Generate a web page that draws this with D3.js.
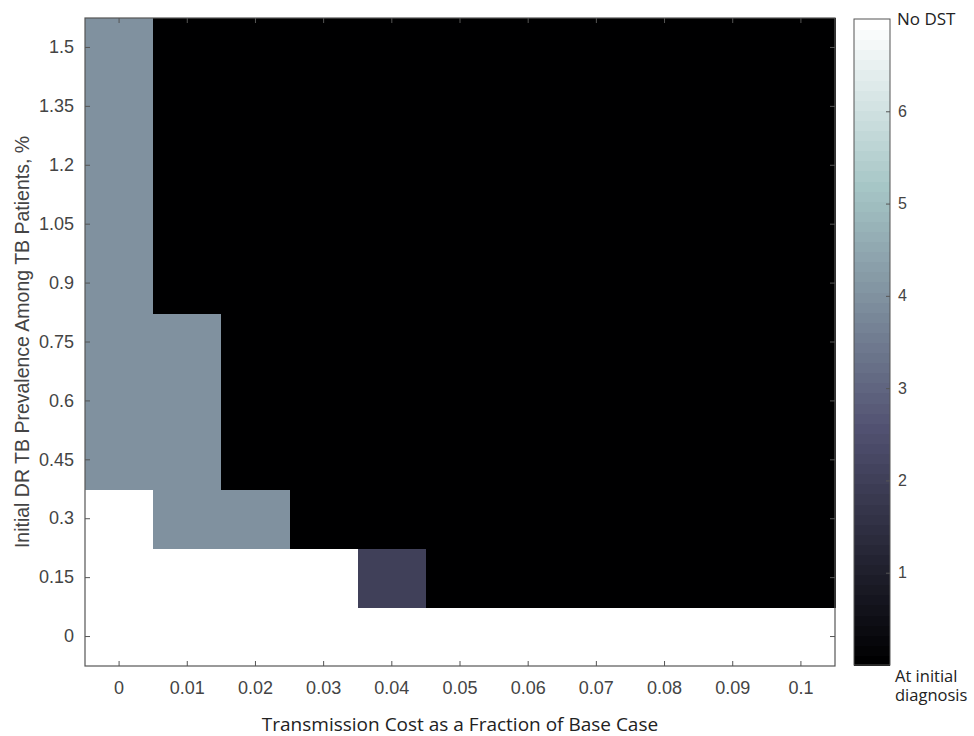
<!DOCTYPE html>
<html>
<head>
<meta charset="utf-8">
<script src="https://cdn.jsdelivr.net/npm/d3@7"></script>
<style>
  body { margin: 0; background: #fff; }
  .axis text { font-family: "Liberation Sans", Arial, sans-serif; font-size: 18px; fill: #444; }
  .axis line { stroke: #555; }
  .axis path { display: none; }
  .cb text { font-size: 16px; }
</style>
</head>
<body>
<div id="canvas"></div>
<script>
// x categories: transmission cost fraction
var xLabels = ["0", "0.01", "0.02", "0.03", "0.04", "0.05", "0.06", "0.07", "0.08", "0.09", "0.1"];
// y categories: initial DR TB prevalence, % (bottom to top)
var yLabels = ["0", "0.15", "0.3", "0.45", "0.6", "0.75", "0.9", "1.05", "1.2", "1.35", "1.5"];
// cell values per row, bottom row first (0 = at initial diagnosis, 7 = no DST)
var row000 = [7, 7, 7, 7, 7, 7, 7, 7, 7, 7, 7];
var row015 = [7, 7, 7, 7, 2, 0, 0, 0, 0, 0, 0];
var row030 = [7, 4, 4, 0, 0, 0, 0, 0, 0, 0, 0];
var row045 = [4, 4, 0, 0, 0, 0, 0, 0, 0, 0, 0];
var row060 = [4, 4, 0, 0, 0, 0, 0, 0, 0, 0, 0];
var row075 = [4, 4, 0, 0, 0, 0, 0, 0, 0, 0, 0];
var row090 = [4, 0, 0, 0, 0, 0, 0, 0, 0, 0, 0];
var row105 = [4, 0, 0, 0, 0, 0, 0, 0, 0, 0, 0];
var row120 = [4, 0, 0, 0, 0, 0, 0, 0, 0, 0, 0];
var row135 = [4, 0, 0, 0, 0, 0, 0, 0, 0, 0, 0];
var row150 = [4, 0, 0, 0, 0, 0, 0, 0, 0, 0, 0];
var rows = [row000, row015, row030, row045, row060, row075, row090, row105, row120, row135, row150];
// colorbar
var cbTicks = [1, 2, 3, 4, 5, 6];
var cbMin = 0, cbMax = 7;
var cbTopLabel = ["No DST"];
var cbBottomLabel = ["At initial", "diagnosis"];

var xTitle = "Transmission Cost as a Fraction of Base Case";
var yTitle = "Initial DR TB Prevalence Among TB Patients, %";

// matlab "bone" colormap, 64 levels
function bone(t) {
  var m = 64, i = Math.min(m - 1, Math.max(0, Math.floor(t * m)));
  var n = Math.floor(3 / 8 * m);
  var g = i / (m - 1);
  var hr = i < n ? (i + 1) / n : 1;
  var hg = i < n ? 0 : (i < 2 * n ? (i - n + 1) / n : 1);
  var hb = i < 2 * n ? 0 : (i - 2 * n + 1) / (m - 2 * n);
  // fliplr(hot)
  var r = (7 * g + hb) / 8, gg = (7 * g + hg) / 8, b = (7 * g + hr) / 8;
  return d3.rgb(r * 255, gg * 255, b * 255).toString();
}

var width = 974, height = 736;
var margin = {top: 18, right: 139, bottom: 70, left: 85};

var svg = d3.select("#canvas").append("svg")
    .attr("width", width)
    .attr("height", height);

var x = d3.scaleBand().domain(xLabels).range([margin.left, width - margin.right]).padding(0);
var y = d3.scaleBand().domain(yLabels).range([height - margin.bottom, margin.top]).padding(0);
var color = function(v) { return bone((v - cbMin) / (cbMax - cbMin)); };

var cells = [];
rows.forEach(function(r, i) {
  r.forEach(function(v, j) { cells.push({x: xLabels[j], y: yLabels[i], v: v}); });
});

svg.append("g").attr("shape-rendering", "crispEdges").selectAll("rect")
  .data(cells)
  .enter().append("rect")
    .attr("x", function(d) { return x(d.x); })
    .attr("y", function(d) { return y(d.y); })
    .attr("width", x.bandwidth() + 1)
    .attr("height", y.bandwidth() + 1)
    .attr("fill", function(d) { return color(d.v); });

var plotB = height - margin.bottom, plotR = width - margin.right;

// Axes with inward ticks on all four sides
svg.append("g").attr("class", "axis")
    .attr("transform", "translate(0," + plotB + ")")
    .call(d3.axisBottom(x).tickSizeInner(-5).tickSizeOuter(0).tickPadding(15));
svg.append("g").attr("class", "axis")
    .attr("transform", "translate(0," + margin.top + ")")
    .call(d3.axisTop(x).tickSizeInner(-5).tickSizeOuter(0).tickFormat(""));
svg.append("g").attr("class", "axis")
    .attr("transform", "translate(" + margin.left + ",0)")
    .call(d3.axisLeft(y).tickSizeInner(-5).tickSizeOuter(0).tickPadding(11));
svg.append("g").attr("class", "axis")
    .attr("transform", "translate(" + plotR + ",0)")
    .call(d3.axisRight(y).tickSizeInner(-5).tickSizeOuter(0).tickFormat(""));

svg.append("rect")
    .attr("x", margin.left).attr("y", margin.top)
    .attr("width", plotR - margin.left).attr("height", plotB - margin.top)
    .attr("fill", "none").attr("stroke", "#555").attr("stroke-width", 1.2);

// Titles
svg.append("text")
    .attr("x", (margin.left + plotR) / 2).attr("y", 731)
    .attr("text-anchor", "middle")
    .style("font-family", "'Open Sans', sans-serif").style("font-size", "19px").style("fill", "#222")
    .text(xTitle);
svg.append("text")
    .attr("transform", "translate(29," + ((margin.top + plotB) / 2) + ") rotate(-90)")
    .attr("text-anchor", "middle")
    .style("font-family", "'Liberation Sans', Arial, sans-serif").style("font-size", "19.5px").style("fill", "#444")
    .text(yTitle);

// Colorbar
var cbX = 854, cbW = 36;
var cy = d3.scaleLinear().domain([cbMin, cbMax]).range([plotB - 1, margin.top + 1]);
var bands = d3.range(64);
svg.append("g").attr("shape-rendering", "crispEdges").selectAll("rect")
  .data(bands)
  .enter().append("rect")
    .attr("x", cbX)
    .attr("y", function(i) { return cy(cbMin + (i + 1) * (cbMax - cbMin) / 64); })
    .attr("width", cbW)
    .attr("height", function(i) { return cy(cbMin + i * (cbMax - cbMin) / 64) - cy(cbMin + (i + 1) * (cbMax - cbMin) / 64) + 1; })
    .attr("fill", function(i) { return bone((i + 0.5) / 64); });
svg.append("rect")
    .attr("x", cbX).attr("y", cy(cbMax))
    .attr("width", cbW).attr("height", cy(cbMin) - cy(cbMax))
    .attr("fill", "none").attr("stroke", "#555").attr("stroke-width", 1);

svg.append("g").attr("class", "axis cb")
    .attr("transform", "translate(" + (cbX + cbW) + ",0)")
    .call(d3.axisRight(cy).tickValues(cbTicks).tickFormat(d3.format("d"))
      .tickSizeInner(-4).tickSizeOuter(0).tickPadding(8));

svg.append("text")
    .attr("x", 897).attr("y", 25)
    .style("font-family", "'Open Sans', sans-serif").style("font-size", "17px").style("fill", "#222")
    .text(cbTopLabel[0]);
svg.append("g").selectAll("text")
  .data(cbBottomLabel)
  .enter().append("text")
    .attr("x", 895)
    .attr("y", function(d, i) { return 682 + i * 19; })
    .style("font-family", "'Open Sans', sans-serif").style("font-size", "16.5px").style("fill", "#222")
    .text(function(d) { return d; });
</script>
</body>
</html>
